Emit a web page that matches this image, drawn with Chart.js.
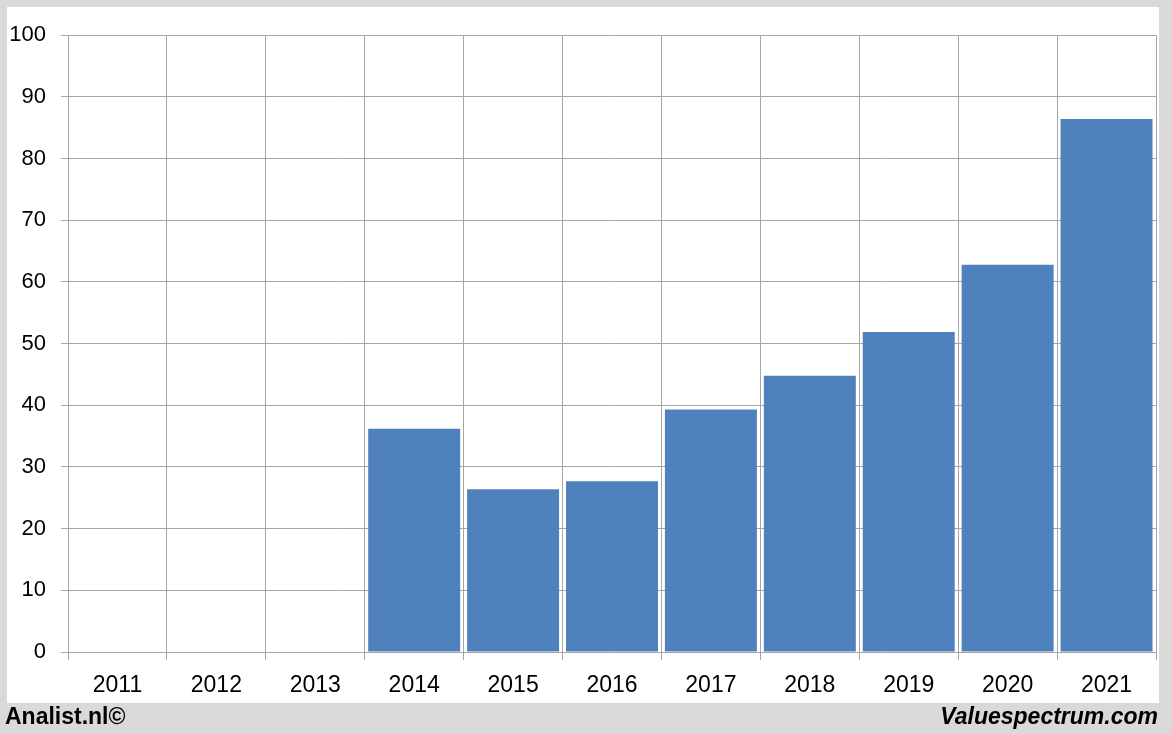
<!DOCTYPE html>
<html>
<head>
<meta charset="utf-8">
<script src="https://cdn.jsdelivr.net/npm/chart.js@4"></script>
<style>
  html, body { margin:0; padding:0; }
  body { width:1172px; height:734px; background:#d9d9d9; position:relative; overflow:hidden; font-family:"Liberation Sans", Arial, sans-serif; }
  #panel { position:absolute; left:7px; top:7px; width:1152px; height:696px; background:#fff; }
  #left { position:absolute; left:5px; top:702px; font-weight:bold; font-size:23px; color:#000; line-height:28px; }
  #right { position:absolute; right:14px; top:702px; font-weight:bold; font-style:italic; font-size:23px; color:#000; line-height:28px; }
</style>
</head>
<body>
<div id="panel"><canvas id="c" width="1152" height="696"></canvas></div>
<div id="left">Analist.nl©</div>
<div id="right">Valuespectrum.com</div>
<script>
const categories = ["2011","2012","2013","2014","2015","2016","2017","2018","2019","2020","2021"];
const values = [null, null, null, 36.2, 26.4, 27.7, 39.3, 44.8, 51.9, 62.8, 86.4];
const yMin = 0, yMax = 100, yStep = 10;

const gridColor = "#a6a6a6";

new Chart(document.getElementById("c"), {
  type: "bar",
  data: {
    labels: categories,
    datasets: [{ data: values, backgroundColor: "#4f81bd", borderWidth: 0, barPercentage: 0.93, categoryPercentage: 1.0 }]
  },
  options: {
    responsive: false,
    animation: false,
    plugins: { legend: { display: false }, tooltip: { enabled: false } },
    layout: { padding: { top: 27, right: 3, left: 0, bottom: 0 } },
    scales: {
      x: {
        offset: true,
        grid: { offset: true, color: gridColor, lineWidth: 1, drawTicks: true, tickLength: 8 },
        border: { color: gridColor },
        ticks: { color: "#000", font: { family: "Liberation Sans", size: 23 }, padding: 12, maxRotation: 0 },
        afterFit: (s) => { s.height = 51; }
      },
      y: {
        min: yMin, max: yMax,
        grid: { color: gridColor, lineWidth: 1, drawTicks: true, tickLength: 7 },
        border: { color: gridColor },
        ticks: { stepSize: yStep, color: "#000", font: { family: "Liberation Sans", size: 22 }, padding: 15 },
        afterFit: (s) => { s.width = 61; }
      }
    }
  }
});
</script>
</body>
</html>
